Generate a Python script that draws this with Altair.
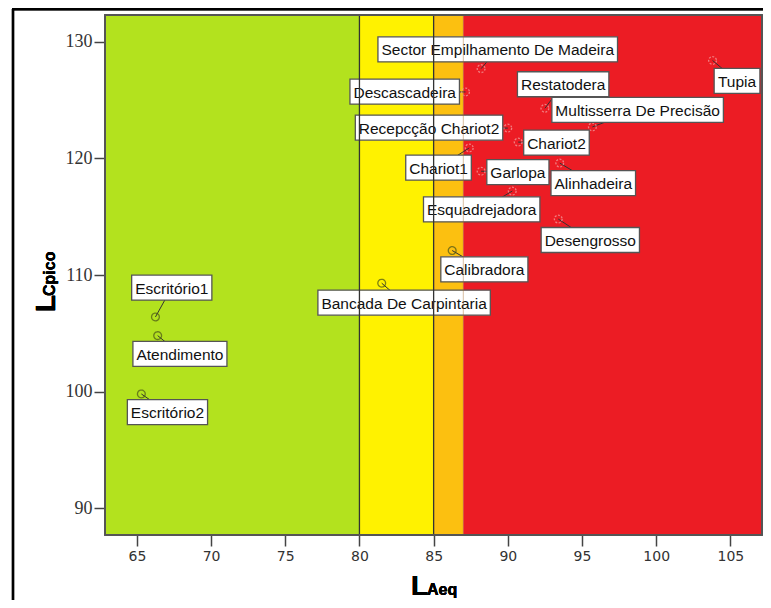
import altair as alt
import pandas as pd

# ---- data ----
names = ["Escritório1", "Atendimento", "Escritório2", "Bancada De Carpintaria",
         "Calibradora", "Sector Empilhamento De Madeira", "Descascadeira",
         "Recepcção Chariot2", "Chariot1", "Chariot2", "Garlopa", "Alinhadeira",
         "Esquadrejadora", "Desengrosso", "Restatodera", "Multisserra De Precisão",
         "Tupia"]
laeq = [66.25, 66.4, 65.3, 81.5, 86.25, 88.2, 87.15, 90.0, 87.4, 90.7, 88.2,
        93.5, 90.3, 93.4, 92.5, 95.7, 103.8]
lcpico = [106.4, 104.8, 99.8, 109.3, 112.1, 127.7, 125.7, 122.6, 120.9, 121.4,
          118.9, 119.6, 117.2, 114.8, 124.3, 122.7, 128.4]
# label anchor (centre of the label box), in data units
label_x = [67.35, 67.9, 67.06, 83.01, 88.42, 89.32, 83.05, 84.69, 85.33, 93.28,
           90.68, 95.76, 88.24, 95.56, 93.73, 98.75, 105.45]
label_y = [108.92, 103.24, 98.24, 107.63, 110.49, 129.36, 125.73, 122.64, 119.21,
           121.36, 118.82, 117.88, 115.63, 113.0, 126.36, 124.16, 126.65]

band_edges = [62.85, 80, 85, 87, 107.2]
band_colors = ["#b3e21e", "#fff200", "#fcc010", "#ec1c24"]
ref_lines = [80, 85]
x_ticks = [65, 70, 75, 80, 85, 90, 95, 100, 105]
y_ticks = [90, 100, 110, 120, 130]

# ---- layout ----
W, H = 658, 520
XMIN, XMAX = band_edges[0], band_edges[-1]
YMIN, YMAX = 87.7, 132.3
PX_X = W / (XMAX - XMIN)
PX_Y = H / (YMAX - YMIN)
FS = 15.5

ARIAL = {' ': 278, 'A': 667, 'B': 667, 'C': 722, 'D': 722, 'E': 667, 'G': 778,
         'M': 833, 'P': 667, 'R': 722, 'S': 667, 'T': 611, 'a': 556, 'b': 556,
         'c': 500, 'd': 556, 'e': 556, 'g': 556, 'h': 556, 'i': 222, 'j': 222,
         'l': 222, 'm': 833, 'n': 556, 'o': 556, 'p': 556, 'q': 556, 'r': 333,
         's': 500, 't': 278, 'u': 556, 'ç': 500, 'ã': 556, 'ó': 556}


def text_px(s, fs):
    return sum(ARIAL.get(ch, 556) for ch in s) / 1000.0 * fs


df = pd.DataFrame({"name": names, "laeq": laeq, "lcpico": lcpico,
                   "lx": label_x, "ly": label_y})
df["zone"] = ["red" if v >= 87 else "other" for v in laeq]
half_w = [(text_px(n, FS) + 7) / 2 / PX_X for n in names]
half_h = 12.5 / PX_Y
df["bx1"] = [a - b for a, b in zip(label_x, half_w)]
df["bx2"] = [a + b for a, b in zip(label_x, half_w)]
df["by1"] = [a - half_h for a in label_y]
df["by2"] = [a + half_h for a in label_y]

bands = pd.DataFrame({"x1": band_edges[:-1], "x2": band_edges[1:], "c": band_colors})
lines = pd.DataFrame({"x": ref_lines})
line87 = pd.DataFrame({"x": [band_edges[3]]})

xs = alt.Scale(domain=[XMIN, XMAX], nice=False, zero=False)
ys = alt.Scale(domain=[YMIN, YMAX], nice=False, zero=False)

xaxis = alt.Axis(values=x_ticks, title=None, grid=False, domain=False,
                 labelFont="DejaVu Sans", labelFontSize=14, labelColor="#333",
                 tickSize=11, tickWidth=1.5, tickColor="#444", labelPadding=3)
yaxis = alt.Axis(values=y_ticks, title=None, grid=False, domain=False,
                 labelFont="Liberation Serif", labelFontSize=18, labelColor="#333",
                 tickSize=11, tickWidth=1.5, tickColor="#444", labelPadding=2)

band_layer = alt.Chart(bands).mark_rect().encode(
    x=alt.X("x1:Q", scale=xs, axis=xaxis),
    x2="x2:Q",
    y=alt.value(0), y2=alt.value(H),
    color=alt.Color("c:N", scale=None),
)

# invisible layer carrying the y axis
yaxis_layer = alt.Chart(df).mark_point(opacity=0).encode(
    x=alt.X("laeq:Q", scale=xs, axis=xaxis),
    y=alt.Y("lcpico:Q", scale=ys, axis=yaxis),
)

leaders = alt.Chart(df).mark_rule(color="#333", strokeWidth=1).encode(
    x=alt.X("laeq:Q", scale=xs), y=alt.Y("lcpico:Q", scale=ys),
    x2="lx:Q", y2="ly:Q",
)

points = alt.Chart(df).mark_point(shape="circle", size=60, filled=False,
                                  strokeWidth=1.3).encode(
    x=alt.X("laeq:Q", scale=xs), y=alt.Y("lcpico:Q", scale=ys),
    stroke=alt.Stroke("zone:N", scale=alt.Scale(domain=["red", "other"],
                                                 range=["#f4a8a8", "#4a5418"]),
                      legend=None),
    strokeDash=alt.StrokeDash("zone:N", scale=alt.Scale(domain=["red", "other"],
                                                         range=[[2, 1.5], [1, 0]]),
                              legend=None),
)

boxes = alt.Chart(df).mark_rect(fill="white", stroke="#555", strokeWidth=1.3).encode(
    x=alt.X("bx1:Q", scale=xs), x2="bx2:Q",
    y=alt.Y("by1:Q", scale=ys), y2="by2:Q",
)

texts = alt.Chart(df).mark_text(font="Liberation Sans", fontSize=FS, color="#111",
                                align="center", baseline="middle", dy=1).encode(
    x=alt.X("lx:Q", scale=xs), y=alt.Y("ly:Q", scale=ys), text="name:N",
)

vlines = alt.Chart(lines).mark_rule(color="#333", strokeWidth=1.3).encode(
    x=alt.X("x:Q", scale=xs), y=alt.value(0), y2=alt.value(H),
)
vline87 = alt.Chart(line87).mark_rule(color="#a06020", strokeWidth=0.7, opacity=0.6).encode(
    x=alt.X("x:Q", scale=xs), y=alt.value(0), y2=alt.value(H),
)

frame = alt.Chart(bands).mark_rect(fill=None, stroke="#555", strokeWidth=1.5).encode(
    x=alt.value(0), x2=alt.value(W - 1), y=alt.value(0), y2=alt.value(H),
)

xt_L = alt.Chart(bands).mark_text(text="L", font="Liberation Sans", fontWeight="bold",
                                  fontSize=28, align="left", baseline="alphabetic",
                                  color="#000").encode(x=alt.value(306), y=alt.value(580))
xt_s = alt.Chart(bands).mark_text(text="Aeq", font="Liberation Sans", fontWeight="bold",
                                  fontSize=16, align="left", baseline="alphabetic",
                                  color="#000").encode(x=alt.value(322), y=alt.value(580))
yt_L = alt.Chart(bands).mark_text(text="L", font="Liberation Sans", fontWeight="bold",
                                  fontSize=28, align="left", baseline="alphabetic",
                                  angle=270, color="#000").encode(x=alt.value(-50), y=alt.value(297))
yt_s = alt.Chart(bands).mark_text(text="Cpico", font="Liberation Sans", fontWeight="bold",
                                  fontSize=16, align="left", baseline="alphabetic",
                                  angle=270, color="#000").encode(x=alt.value(-50), y=alt.value(281))

border_left = alt.Chart(bands).mark_rule(color="#000", strokeWidth=2.2).encode(
    x=alt.value(-92), y=alt.value(-6), y2=alt.value(600))
border_top = alt.Chart(bands).mark_rule(color="#000", strokeWidth=2.5).encode(
    x=alt.value(-93), x2=alt.value(680), y=alt.value(-6))

chart = alt.layer(
    band_layer, yaxis_layer, leaders, points, boxes, texts, vlines, vline87, frame,
    xt_L, xt_s, yt_L, yt_s, border_left, border_top,
).properties(
    width=W, height=H,
    autosize=alt.AutoSizeParams(type="none"),
    padding={"left": 97, "top": 7, "right": 0, "bottom": 65},
    background="white",
).configure_view(stroke=None)

chart.save("out.html", embed_options={"renderer": "svg", "actions": False})
